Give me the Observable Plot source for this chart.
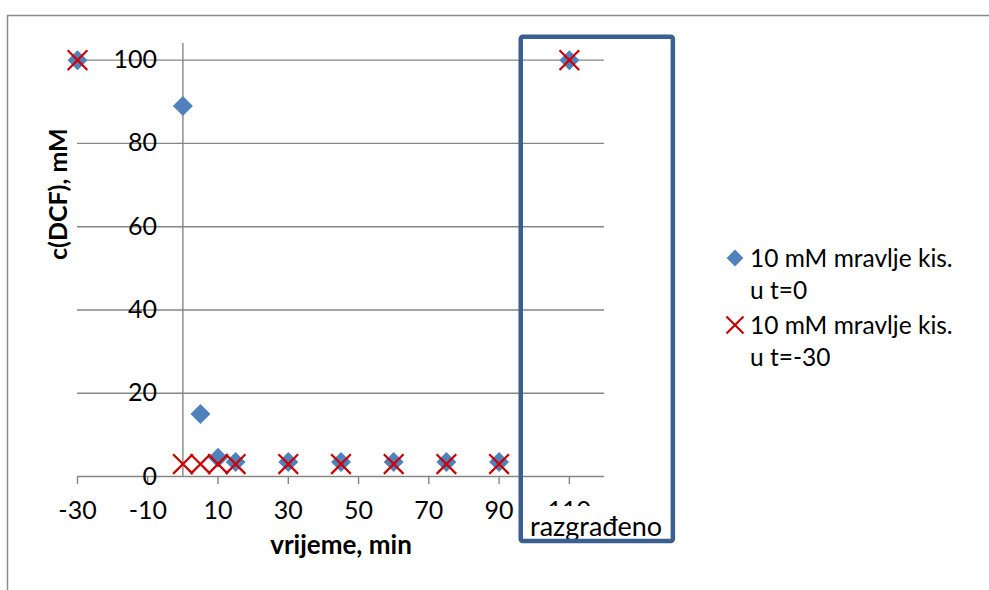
<!DOCTYPE html>
<html>
<head>
<meta charset="utf-8">
<script src="https://cdn.jsdelivr.net/npm/d3@7"></script>
<script src="https://cdn.jsdelivr.net/npm/@observablehq/plot@0.6"></script>
<style>
  html, body { margin: 0; padding: 0; background: white; }
  #chart { position: relative; width: 989px; height: 590px; }
</style>
</head>
<body>
<div id="chart"></div>
<script>
// ---- data ----
const timesT0 = [-30, 0, 5, 10, 15, 30, 45, 60, 75, 90, 110];
const concT0 = [100, 89, 15, 4.5, 3.5, 3.5, 3.5, 3.5, 3.5, 3.5, 100];
const timesTm30 = [-30, 0, 5, 10, 15, 30, 45, 60, 75, 90, 110];
const concTm30 = [100, 3, 3, 3, 3, 3, 3, 3, 3, 3, 100];
const seriesNames = ["10 mM mravlje kis.\nu t=0", "10 mM mravlje kis.\nu t=-30"];
const xTicks = [-30, -10, 10, 30, 50, 70, 90, 110];
const yTicks = [0, 20, 40, 60, 80, 100];
const xTitle = "vrijeme, min";
const yTitle = "c(DCF), mM";
const boxLabel = "razgrađeno";

const FONT = "Lato, 'Open Sans', sans-serif";
const GRID = "#868686";
const BLUE = "#4f81bd";
const RED = "#cc0000";
const BOX = "#3b5f8e";

const d0 = timesT0.map((t, i) => ({t, c: concT0[i]}));
const d1 = timesTm30.map((t, i) => ({t, c: concTm30[i]}));

// annotation box extent (data units)
const boxX = [96.3, 139.6], boxY = [-15.6, 105.5];

const plot = Plot.plot({
  width: 989, height: 590,
  marginLeft: 77, marginRight: 385, marginTop: 43, marginBottom: 114,
  x: {domain: [-30, 120]},
  y: {domain: [0, 104]},
  style: {fontFamily: FONT, background: "white", color: "black"},
  marks: [
    Plot.ruleY(yTicks.filter(d => d > 0), {x1: -30, x2: 120, stroke: GRID, strokeWidth: 1.4}),
    Plot.ruleX([0], {y1: 0, y2: 104, stroke: GRID, strokeWidth: 1.4}),
    Plot.ruleY([0], {x1: -30, x2: 120, stroke: GRID, strokeWidth: 1.4}),
    Plot.axisX({ticks: xTicks, tickSize: 8, tickPadding: 17, tickFormat: d => String(d),
                fontSize: 25, stroke: GRID, strokeWidth: 1.4, label: null}),
    Plot.axisY({ticks: [], label: null}),
    Plot.text(yTicks, {x: 0, y: d => d, dx: -26, textAnchor: "end", fontSize: 25, fill: "black"}),
    Plot.text([xTitle], {frameAnchor: "bottom", dy: 77, fontSize: 26, fontWeight: "bold", fill: "black"}),
    Plot.text([yTitle], {frameAnchor: "left", dx: -19, rotate: -90, fontSize: 25, fontWeight: "bold", fill: "black"}),
    Plot.dot(d0, {x: "t", y: "c", symbol: "diamond2", r: 9, fill: BLUE, stroke: null}),
    Plot.dot(d1, {x: "t", y: "c", symbol: "times", r: 9, stroke: RED, strokeWidth: 2.2}),
    Plot.rect([0], {x1: boxX[0], x2: boxX[1], y1: boxY[0], y2: -7.2, fill: "white"}),
    Plot.text([boxLabel], {x: 117.6, y: -12.2, fontSize: 27, fill: "black"}),
    Plot.rect([0], {x1: boxX[0], x2: boxX[1], y1: boxY[0], y2: boxY[1], fill: "none", stroke: BOX, strokeWidth: 4.5, rx: 2})
  ]
});
document.getElementById("chart").appendChild(plot);

// chart border and legend
const svg = d3.select(plot);
svg.append("path").attr("d", "M7.5,590 L7.5,15.5 L989,15.5").attr("fill", "none").attr("stroke", "#8a8a8a").attr("stroke-width", 1.5);

const leg = svg.append("g").attr("font-family", FONT).attr("font-size", 24.5)
  .attr("fill", "black").attr("text-anchor", "start");
const legRows = [
  {y: 258, sym: d3.symbolDiamond2, color: BLUE, filled: true},
  {y: 325, sym: d3.symbolTimes, color: RED, filled: false}
];
legRows.forEach((r, i) => {
  const p = leg.append("path")
    .attr("transform", `translate(735,${r.y})`)
    .attr("d", d3.symbol(r.sym, r.filled ? 180 : 190)());
  if (r.filled) p.attr("fill", r.color);
  else p.attr("fill", "none").attr("stroke", r.color).attr("stroke-width", 2.2);
  seriesNames[i].split("\n").forEach((line, j) => {
    leg.append("text").attr("x", 750).attr("y", r.y + j * 32).attr("dy", "0.35em").text(line);
  });
});
</script>
</body>
</html>
